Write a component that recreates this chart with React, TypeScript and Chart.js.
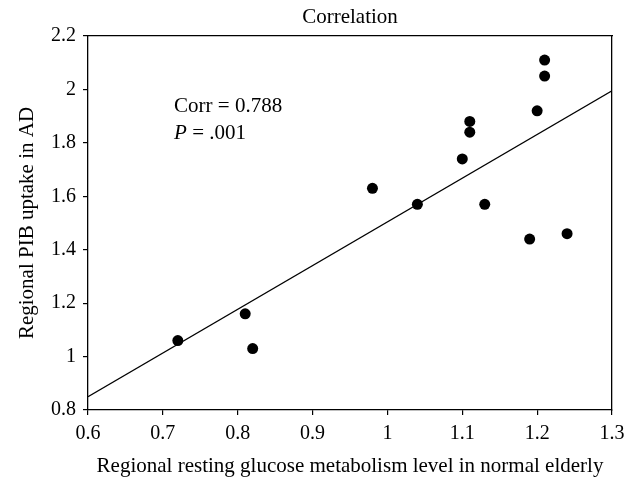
import { useEffect, useRef } from "react";
import { Chart, registerables } from "chart.js";

Chart.register(...registerables);

// ---- data ----
const glucoseNormalElderly = [0.72, 0.81, 0.82, 0.98, 1.04, 1.1, 1.11, 1.11, 1.13, 1.19, 1.2, 1.21, 1.21, 1.24];
const pibUptakeAD = [1.06, 1.16, 1.03, 1.63, 1.57, 1.74, 1.88, 1.84, 1.57, 1.44, 1.92, 2.11, 2.05, 1.46];
const fitLineX = [0.6, 1.3];
const fitLineY = [0.85, 1.995];
const xTickValues = [0.6, 0.7, 0.8, 0.9, 1.0, 1.1, 1.2, 1.3];
const yTickValues = [0.8, 1.0, 1.2, 1.4, 1.6, 1.8, 2.0, 2.2];
const chartTitle = "Correlation";
const xAxisTitle = "Regional resting glucose metabolism level in normal elderly";
const yAxisTitle = "Regional PIB uptake in AD";
const corrText = "Corr = 0.788";
const pLetter = "P";
const pRest = " = .001";

// annotation anchor in data units
const ANNOT_X = 0.715;
const ANNOT_Y1 = 1.936;
const ANNOT_Y2 = 1.834;

const FONT = "'Liberation Serif', 'Times New Roman', serif";

const annotationPlugin = {
  id: "corrAnnotation",
  afterDatasetsDraw(chart: any) {
    const { ctx, scales } = chart;
    const x = scales.x;
    const y = scales.y;
    const px = x.getPixelForValue(ANNOT_X);
    const py1 = y.getPixelForValue(ANNOT_Y1);
    const py2 = y.getPixelForValue(ANNOT_Y2);
    ctx.save();
    ctx.fillStyle = "#000";
    ctx.textBaseline = "middle";
    ctx.textAlign = "left";
    ctx.font = `21px ${FONT}`;
    ctx.fillText(corrText, px, py1);
    ctx.font = `italic 21px ${FONT}`;
    ctx.fillText(pLetter, px, py2);
    const w = ctx.measureText(pLetter).width;
    ctx.font = `21px ${FONT}`;
    ctx.fillText(pRest, px + w, py2);
    ctx.restore();
  },
};

const fmt = (v: number) => String(Number(Number(v).toFixed(2)));

export default function App() {
  const ref = useRef<HTMLCanvasElement | null>(null);

  useEffect(() => {
    if (!ref.current) return;
    const points = glucoseNormalElderly.map((x, i) => ({ x, y: pibUptakeAD[i] }));
    const fit = fitLineX.map((x, i) => ({ x, y: fitLineY[i] }));

    const chart = new Chart(ref.current, {
      type: "scatter",
      data: {
        datasets: [
          {
            label: "Subjects",
            data: points,
            backgroundColor: "#000",
            borderColor: "#000",
            pointRadius: 5.5,
            pointHoverRadius: 5.5,
            borderWidth: 0,
          },
          {
            label: "Fit",
            data: fit,
            showLine: true,
            borderColor: "#000",
            borderWidth: 1.3,
            pointRadius: 0,
            fill: false,
          } as any,
        ],
      },
      options: {
        animation: false,
        responsive: false,
        layout: { padding: 0 },
        plugins: {
          legend: { display: false },
          tooltip: { enabled: false },
          title: { display: false },
        },
        scales: {
          x: {
            type: "linear",
            position: "bottom",
            min: 0.6,
            max: 1.3,
            afterBuildTicks: (s: any) => {
              s.ticks = xTickValues.map((v) => ({ value: v }));
            },
            afterFit: (s: any) => {
              s.height = 69;
              s.paddingLeft = 0;
              s.paddingRight = 0;
            },
            ticks: {
              color: "#000",
              font: { family: FONT, size: 20 },
              padding: 7,
              maxRotation: 0,
              autoSkip: false,
              callback: (v: any) => fmt(v),
            },
            grid: {
              display: true,
              drawOnChartArea: false,
              drawTicks: true,
              tickLength: 5,
              color: "#000",
              lineWidth: 1.2,
            },
            border: { display: true, color: "#000", width: 1.3 },
            title: {
              display: true,
              text: xAxisTitle,
              color: "#000",
              font: { family: FONT, size: 21 },
              padding: { top: 0, bottom: 0 },
            },
          },
          y: {
            type: "linear",
            position: "left",
            min: 0.8,
            max: 2.2,
            afterBuildTicks: (s: any) => {
              s.ticks = yTickValues.map((v) => ({ value: v }));
            },
            afterFit: (s: any) => {
              s.width = 88;
              s.paddingTop = 0;
              s.paddingBottom = 0;
            },
            ticks: {
              color: "#000",
              font: { family: FONT, size: 20 },
              padding: 7,
              autoSkip: false,
              callback: (v: any) => fmt(v),
            },
            grid: {
              display: true,
              drawOnChartArea: false,
              drawTicks: true,
              tickLength: 5,
              color: "#000",
              lineWidth: 1.2,
            },
            border: { display: true, color: "#000", width: 1.3 },
            title: {
              display: true,
              text: yAxisTitle,
              color: "#000",
              font: { family: FONT, size: 21 },
              padding: { top: 15, bottom: 0 },
            },
          },
          x2: {
            type: "linear",
            position: "top",
            display: true,
            min: 0.6,
            max: 1.3,
            afterFit: (s: any) => {
              s.height = 36;
              s.paddingLeft = 0;
              s.paddingRight = 0;
            },
            ticks: { display: false },
            grid: { display: true, drawOnChartArea: false, drawTicks: false, color: "#000" },
            border: { display: true, color: "#000", width: 1.3 },
            title: {
              display: true,
              text: chartTitle,
              color: "#000",
              font: { family: FONT, size: 21 },
              padding: { top: 5, bottom: 0 },
            },
          },
          y2: {
            type: "linear",
            position: "right",
            display: true,
            min: 0.8,
            max: 2.2,
            afterFit: (s: any) => {
              s.width = 12;
              s.paddingTop = 0;
              s.paddingBottom = 0;
            },
            ticks: { display: false },
            grid: { display: true, drawOnChartArea: false, drawTicks: false, color: "#000" },
            border: { display: true, color: "#000", width: 1.3 },
          },
        } as any,
      },
      plugins: [annotationPlugin],
    });

    return () => chart.destroy();
  }, []);

  return (
    <div style={{ position: "absolute", left: 0, top: 0, width: 624, height: 479, background: "#fff" }}>
      <canvas ref={ref} width={624} height={479} style={{ display: "block" }} />
    </div>
  );
}
